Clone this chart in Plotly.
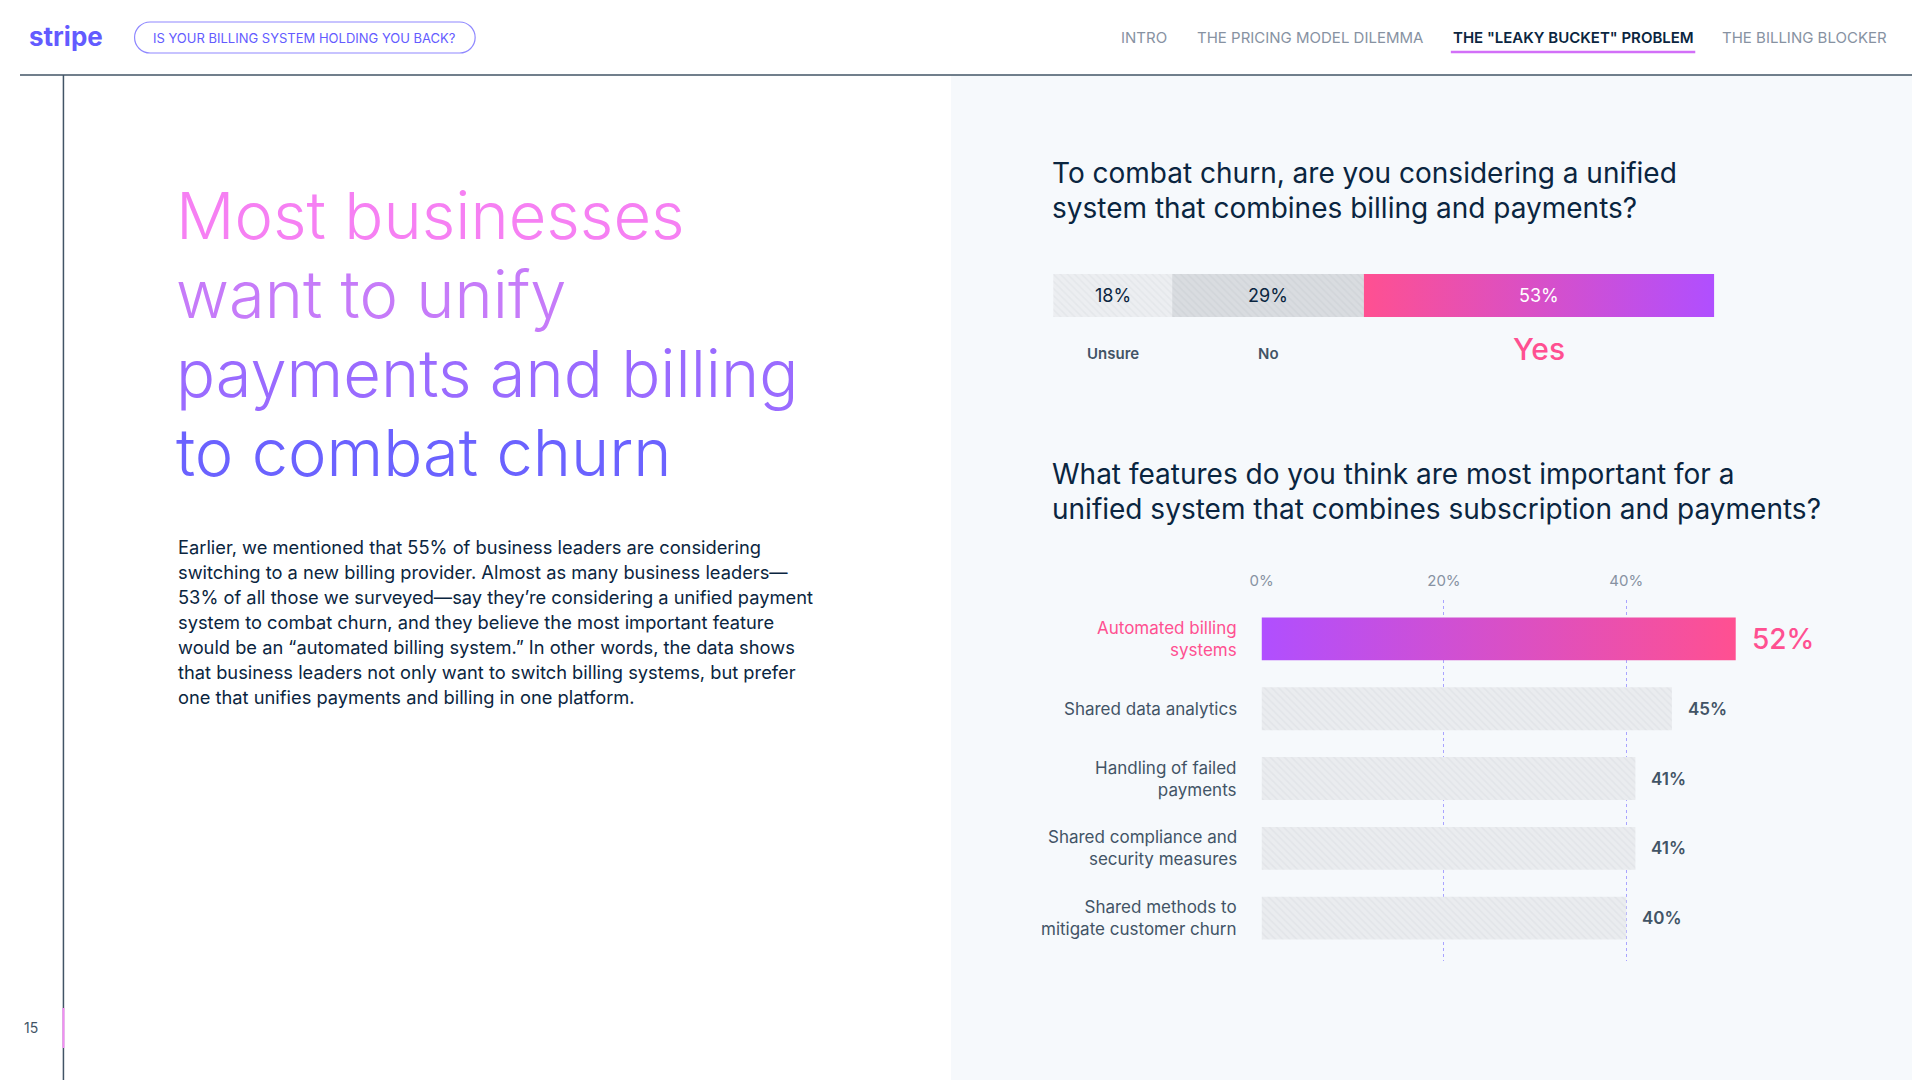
import plotly.graph_objects as go

# question 1: share of answers (stacked bar)
answer_labels = ["Unsure", "No", "Yes"]
answer_values = [18, 29, 53]

# question 2: most important features
features = [
    "Automated billing<br>systems",
    "Shared data analytics",
    "Handling of failed<br>payments",
    "Shared compliance and<br>security measures",
    "Shared methods to<br>mitigate customer churn",
]
feature_values = [52, 45, 41, 41, 40]
feature_ticks = [0, 20, 40]

nav_items = ["INTRO", "THE PRICING MODEL DILEMMA", 'THE "LEAKY BUCKET" PROBLEM', "THE BILLING BLOCKER"]
headline = ["Most businesses", "want to unify", "payments and billing", "to combat churn"]
body = [
    "Earlier, we mentioned that 55% of business leaders are considering",
    "switching to a new billing provider. Almost as many business leaders—",
    "53% of all those we surveyed—say they’re considering a unified payment",
    "system to combat churn, and they believe the most important feature",
    "would be an “automated billing system.” In other words, the data shows",
    "that business leaders not only want to switch billing systems, but prefer",
    "one that unifies payments and billing in one platform.",
]
q1_title = ["To combat churn, are you considering a unified", "system that combines billing and payments?"]
q2_title = ["What features do you think are most important for a",
            "unified system that combines subscription and payments?"]

# the page body keeps its default 8px margin, so the figure is offset by that
OFF = 8
W, H = 1920 - OFF, 1080 - OFF
# measured horizontal placement of the rendered page (scale, shift)
SX, DX = 0.992, 12.7
FONT = "Inter"
NAVY = "#0a2540"
SLATE = "#425466"
GREY = "#8792a2"
BLURPLE = "#635bff"
PINK = "#ff5091"
PURPLE = "#b04fff"


def px(x):
    return ((x - DX) / SX - OFF) / W


def py(y):
    return 1 - (y - OFF) / H


def pill_path(x0, y0, x1, y1):
    r = (y1 - y0) / 2
    k = 0.5523 * r
    p = lambda x, y: f"{px(x):.5f},{py(y):.5f}"
    return ("M " + p(x0 + r, y0) + " L " + p(x1 - r, y0)
            + " C " + p(x1 - r + k, y0) + " " + p(x1, y0 + r - k) + " " + p(x1, y0 + r)
            + " C " + p(x1, y0 + r + k) + " " + p(x1 - r + k, y1) + " " + p(x1 - r, y1)
            + " L " + p(x0 + r, y1)
            + " C " + p(x0 + r - k, y1) + " " + p(x0, y1 - r + k) + " " + p(x0, y1 - r)
            + " C " + p(x0, y1 - r - k) + " " + p(x0 + r - k, y0) + " " + p(x0 + r, y0) + " Z")


fig = go.Figure()

# ---- stacked answer bar
starts = [sum(answer_values[:i]) for i in range(len(answer_values))]
hatch = [("#eceef1", "#dcdfe4"), ("#d9dce0", "#c9cdd2")]
for i in range(2):
    fig.add_trace(go.Bar(
        x=[answer_values[i]], y=[0], base=[starts[i]], orientation="h", width=1,
        marker=dict(color=hatch[i][0], line=dict(width=0),
                    pattern=dict(shape="\\", fgcolor=hatch[i][1], bgcolor=hatch[i][0], size=5, solidity=0.3)),
        xaxis="x", yaxis="y", hoverinfo="skip", showlegend=False))
a0, a1 = starts[2], starts[2] + answer_values[2]
fig.add_trace(go.Scatter(
    x=[a0, a1, a1, a0, a0], y=[-0.5, -0.5, 0.5, 0.5, -0.5], mode="lines", line=dict(width=0),
    fill="toself", fillgradient=dict(type="horizontal", colorscale=[[0, PINK], [1, PURPLE]]),
    xaxis="x", yaxis="y", hoverinfo="skip", showlegend=False))

# ---- feature bars
bw = 0.614
fig.add_trace(go.Bar(
    x=feature_values[1:], y=list(range(1, len(features))), orientation="h", width=bw,
    marker=dict(color="#eaecef", line=dict(width=0),
                pattern=dict(shape="\\", fgcolor="#d9dce1", bgcolor="#eaecef", size=5, solidity=0.3)),
    xaxis="x2", yaxis="y2", hoverinfo="skip", showlegend=False))
v0 = feature_values[0]
fig.add_trace(go.Scatter(
    x=[0, v0, v0, 0, 0], y=[-bw / 2, -bw / 2, bw / 2, bw / 2, -bw / 2], mode="lines", line=dict(width=0),
    fill="toself", fillgradient=dict(type="horizontal", colorscale=[[0, PURPLE], [1, PINK]]),
    xaxis="x2", yaxis="y2", hoverinfo="skip", showlegend=False))

ann = []

# header
ann.append(dict(x=px(67), y=py(36), text="<b>stripe</b>", font=dict(size=26, color=BLURPLE)))
ann.append(dict(x=px(305), y=py(38), text="IS YOUR BILLING SYSTEM HOLDING YOU BACK?",
                font=dict(size=13, color=BLURPLE)))
nav_centers = [1143, 1308, 1571, 1802]
for i, t in enumerate(nav_items):
    active = i == 2
    ann.append(dict(x=px(nav_centers[i]), y=py(37), text=t,
                    font=dict(size=15, color=NAVY if active else GREY, weight=600 if active else 400)))

# page number
ann.append(dict(x=px(32), y=py(1027), text="15", font=dict(size=14, color=SLATE)))

# headline
head_colors = ["#f680f3", "#c67bf9", "#9a6bff", "#6b62ff"]
for i, t in enumerate(headline):
    ann.append(dict(x=px(174), y=py(215 + 79 * i), text=t, xanchor="left",
                    font=dict(size=65, color=head_colors[i], weight=300)))

# body
for i, t in enumerate(body):
    ann.append(dict(x=px(176), y=py(547 + 25 * i), text=t, xanchor="left",
                    font=dict(size=18.3, color=NAVY)))

# question titles
for i, t in enumerate(q1_title):
    ann.append(dict(x=px(1049), y=py(173 + 35 * i), text=t, xanchor="left", font=dict(size=28, color=NAVY)))
for i, t in enumerate(q2_title):
    ann.append(dict(x=px(1049), y=py(474 + 35 * i), text=t, xanchor="left", font=dict(size=28, color=NAVY)))

# stacked bar labels
for i, (lab, v) in enumerate(zip(answer_labels, answer_values)):
    mid = starts[i] + v / 2
    ann.append(dict(x=mid, xref="x", y=0, yref="y", text=f"{v}%",
                    font=dict(size=18, color="white" if lab == "Yes" else NAVY)))
    if lab == "Yes":
        ann.append(dict(x=mid, xref="x", y=py(349), text=lab, font=dict(size=30, color=PINK, weight=500)))
    else:
        ann.append(dict(x=mid, xref="x", y=py(354), text=lab, font=dict(size=15, color=SLATE, weight=600)))

# feature labels + values
for i, (lab, v) in enumerate(zip(features, feature_values)):
    top = i == 0
    ann.append(dict(x=px(1238), y=i, yref="y2", text=lab, xanchor="right", align="right",
                    font=dict(size=17, color=PINK if top else SLATE)))
    ann.append(dict(x=v, xref="x2", y=i, yref="y2", text=f"{v}%", xanchor="left", xshift=14,
                    font=dict(size=28 if top else 17, color=PINK if top else SLATE, weight=500 if top else 600)))

for a in ann:
    a.setdefault("xref", "paper")
    a.setdefault("yref", "paper")
    a.setdefault("xanchor", "center")
    a.setdefault("yanchor", "middle")
    a.setdefault("showarrow", False)

shapes = [
    dict(type="rect", x0=px(950), x1=1, y0=0, y1=py(75), fillcolor="#f6f9fc", line=dict(width=0), layer="below"),
    dict(type="line", x0=0, x1=1, y0=py(75), y1=py(75), line=dict(color=SLATE, width=1.5)),
    dict(type="line", x0=px(64), x1=px(64), y0=py(75), y1=0, line=dict(color=SLATE, width=1.5)),
    dict(type="line", x0=px(64), x1=px(64), y0=py(1008), y1=py(1048), line=dict(color="#f48cf4", width=2)),
    dict(type="line", x0=px(1449), x1=px(1693), y0=py(52), y1=py(52), line=dict(color="#d26ff8", width=2.5)),
    dict(type="path", path=pill_path(135, 22, 475, 53), line=dict(color="#8f88ff", width=1.2)),
]
for s in shapes:
    s.setdefault("xref", "paper")
    s.setdefault("yref", "paper")

fig.update_layout(
    width=W, height=H, margin=dict(l=0, r=0, t=0, b=0),
    paper_bgcolor="white", plot_bgcolor="rgba(0,0,0,0)",
    font=dict(family=FONT, color=NAVY),
    barmode="overlay", showlegend=False,
    annotations=ann, shapes=shapes,
    xaxis=dict(domain=[px(1052), px(1712)], range=[0, 100], visible=False, fixedrange=True),
    yaxis=dict(domain=[py(317), py(274)], range=[-0.5, 0.5], visible=False, fixedrange=True),
    xaxis2=dict(domain=[px(1260), px(1788)], range=[0, 58], anchor="y2", side="top",
                tickvals=feature_ticks, ticktext=[f"{v}%" for v in feature_ticks],
                ticks="", showline=False, zeroline=False, ticklabelstandoff=10,
                showgrid=True, griddash="3px,3px", gridcolor="#a9a4ff", gridwidth=1,
                tickfont=dict(size=15, color=GREY), fixedrange=True),
    yaxis2=dict(domain=[py(961), py(600)], range=[4.614, -0.557], anchor="x2", visible=False, fixedrange=True),
)

fig.write_html("out.html")
